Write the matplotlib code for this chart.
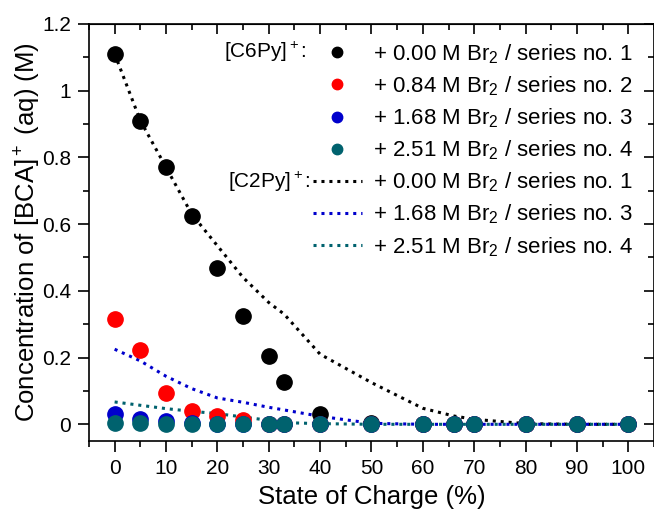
import matplotlib
matplotlib.use('Agg')
import matplotlib.pyplot as plt
from matplotlib.ticker import MultipleLocator, FormatStrFormatter
from matplotlib.lines import Line2D

plt.rcParams['font.family'] = ['Liberation Sans', 'DejaVu Sans']
plt.rcParams['mathtext.fontset'] = 'custom'
plt.rcParams['mathtext.rm'] = 'Liberation Sans'
plt.rcParams['mathtext.it'] = 'Liberation Sans:italic'
plt.rcParams['mathtext.bf'] = 'Liberation Sans:bold'

# 数据: 荷电状态 (%)
soc = [0, 5, 10, 15, 20, 25, 30, 33, 40, 50, 60, 66, 70, 80, 90, 100]

# [C6Py]+ 测量点
c6_s1 = [1.11, 0.91, 0.77, 0.625, 0.468, 0.325, 0.204, 0.126, 0.03, 0.005, 0, 0, 0, 0, 0, 0]
c6_s2 = [0.317, 0.223, 0.094, 0.039, 0.025, 0.012, 0, 0, 0, 0, 0, 0, 0, 0, 0, 0]
c6_s3 = [0.031, 0.017, 0.010, 0.005, 0.002, 0.001, 0, 0, 0, 0, 0, 0, 0, 0, 0, 0]
c6_s4 = [0.003, 0.003, 0.002, 0.002, 0.001, 0.001, 0, 0, 0, 0, 0, 0, 0, 0, 0, 0]

# [C2Py]+ 曲线
c2_s1 = [1.11, 0.91, 0.77, 0.63, 0.535, 0.44, 0.365, 0.33, 0.21, 0.125, 0.048, 0.025, 0.015, 0.002, 0, 0]
c2_s3 = [0.225, 0.19, 0.144, 0.107, 0.079, 0.066, 0.051, 0.043, 0.024, 0.003, 0, 0, 0, 0, 0, 0]
c2_s4 = [0.067, 0.057, 0.047, 0.039, 0.032, 0.022, 0.012, 0.005, 0.002, 0, 0, 0, 0, 0, 0, 0]

labels = ['+ 0.00 M Br$_2$ / series no. 1',
          '+ 0.84 M Br$_2$ / series no. 2',
          '+ 1.68 M Br$_2$ / series no. 3',
          '+ 2.51 M Br$_2$ / series no. 4']

black = '#000000'
red = '#ff0000'
blue = '#0000cc'
teal = '#00626e'

fig = plt.figure(figsize=(6.54, 5.17), dpi=100)
ax = fig.add_axes([0.136, 0.147, 0.864, 0.807])

dot = (0, (1, 1.6))
ax.plot(soc, c2_s1, linestyle=dot, color=black, lw=2.2, zorder=2)
ax.plot(soc, c2_s3, linestyle=dot, color=blue, lw=2.2, zorder=2)
ax.plot(soc, c2_s4, linestyle=dot, color=teal, lw=2.2, zorder=2)

ms = 11
ax.plot(soc, c6_s1, 'o', color=black, ms=ms, zorder=3)
ax.plot(soc, c6_s2, 'o', color=red, ms=ms, zorder=3)
ax.plot(soc, c6_s3, 'o', color=blue, ms=ms, zorder=3)
ax.plot(soc, c6_s4, 'o', color=teal, ms=ms, zorder=4)

ax.set_xlim(-5, 105)
ax.set_ylim(-0.05, 1.2)
ax.xaxis.set_major_locator(MultipleLocator(10))
ax.xaxis.set_minor_locator(MultipleLocator(5))
ax.yaxis.set_major_locator(MultipleLocator(0.2))
ax.yaxis.set_minor_locator(MultipleLocator(0.1))
ax.yaxis.set_major_formatter(FormatStrFormatter('%g'))

for s in ax.spines.values():
    s.set_linewidth(1.2)
ax.tick_params(which='major', direction='out', length=8, width=1.2, labelsize=15, pad=5)
ax.tick_params(which='minor', direction='out', length=4, width=1.2)

# 上边和右边的内向刻度
top = ax.secondary_xaxis('top')
top.xaxis.set_major_locator(MultipleLocator(10))
top.xaxis.set_minor_locator(MultipleLocator(5))
top.tick_params(which='major', direction='in', length=7, width=1.2, labeltop=False)
top.tick_params(which='minor', direction='in', length=4, width=1.2)
right = ax.secondary_yaxis('right')
right.yaxis.set_major_locator(MultipleLocator(0.2))
right.yaxis.set_minor_locator(MultipleLocator(0.1))
right.tick_params(which='major', direction='in', length=7, width=1.2, labelright=False)
right.tick_params(which='minor', direction='in', length=4, width=1.2)

ax.set_xlabel('State of Charge (%)', fontsize=18.5, labelpad=5)
ax.set_ylabel('Concentration of [BCA]$^+$ (aq) (M)', fontsize=18.5, labelpad=-1)

# 图例
handles = [Line2D([], [], marker='o', ls='none', color=c, ms=7.5) for c in (black, red, blue, teal)]
handles += [Line2D([], [], ls=dot, color=c, lw=2.2) for c in (black, blue, teal)]
leg_labels = labels + [labels[0], labels[2], labels[3]]
leg = ax.legend(handles, leg_labels, loc='upper left', bbox_to_anchor=(313 / 654, 1 - 42 / 517),
                bbox_transform=fig.transFigure, frameon=False, fontsize=16,
                handlelength=2.2, handletextpad=0.5, labelspacing=0.385, borderpad=0, borderaxespad=0)

fig.text(307 / 654, 1 - 52 / 517, '[C6Py]$^+$:', fontsize=15, ha='right', va='center')
fig.text(311 / 654, 1 - 182 / 517, '[C2Py]$^+$:', fontsize=15, ha='right', va='center')

fig.savefig('out.png', dpi=100)
